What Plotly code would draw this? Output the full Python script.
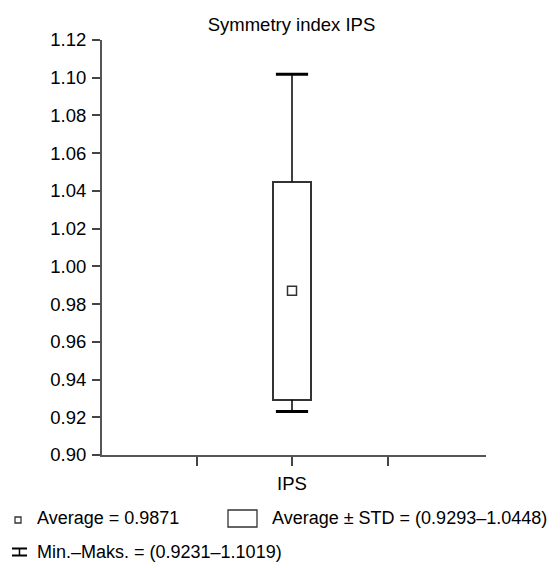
import plotly.graph_objects as go

# ---- data ----
category = ["IPS"]
mean_val = [0.9871]
std_low = [0.9293]
std_high = [1.0448]
min_val = [0.9231]
max_val = [1.1019]
y_ticks = [0.90, 0.92, 0.94, 0.96, 0.98, 1.00, 1.02, 1.04, 1.06, 1.08, 1.10, 1.12]
title_text = "Symmetry index IPS"
legend_mean = "Average = %.4f" % mean_val[0]
legend_std = "Average ± STD = (%.4f–%.4f)" % (std_low[0], std_high[0])
legend_minmax = "Min.–Maks. = (%.4f–%.4f)" % (min_val[0], max_val[0])

FONT = "Liberation Sans, Arial, sans-serif"
FS = 18.5
FS_LEG = 18
OFF = 8                      # page body margin
W, H = 560 - OFF, 568 - OFF  # figure size so that it fits the window
# plot area in page pixels
PL, PR, PT, PB = 102, 486, 40, 455
L, R, T, B = PL - OFF, PR - OFF, PT - OFF, PB - OFF

def px(x):  # page x -> paper
    return (x - PL) / (PR - PL)

def py(y):  # page y -> paper
    return (PB - y) / (PB - PT)

xpos = [0]
unit = 95.5  # px per category unit

fig = go.Figure()

# Box: mean ± STD
fig.add_trace(go.Bar(
    x=xpos, base=std_low, y=[h - l for h, l in zip(std_high, std_low)],
    width=0.4, marker=dict(color="white", line=dict(color="#333333", width=2)),
    showlegend=False, hoverinfo="skip"))

# Whiskers
wx, wy = [], []
for x, lo, hi, mn, mx in zip(xpos, std_low, std_high, min_val, max_val):
    wx += [x, x, None, x, x, None]
    wy += [hi, mx, None, mn, lo, None]
fig.add_trace(go.Scatter(x=wx, y=wy, mode="lines",
                         line=dict(color="black", width=1.5),
                         showlegend=False, hoverinfo="skip"))

# Caps
fig.add_trace(go.Scatter(x=xpos * 2, y=max_val + min_val, mode="markers",
                         marker=dict(symbol="line-ew", size=23,
                                     line=dict(color="black", width=3)),
                         showlegend=False, hoverinfo="skip"))

# Mean marker
fig.add_trace(go.Scatter(x=xpos, y=mean_val, mode="markers",
                         marker=dict(symbol="square", size=9, color="white",
                                     line=dict(color="#333333", width=1.5)),
                         showlegend=False, hoverinfo="skip"))

fig.update_layout(
    width=W, height=H,
    margin=dict(l=L, r=W - R, t=T, b=H - B, pad=0),
    plot_bgcolor="white", paper_bgcolor="white",
    font=dict(family=FONT, size=FS, color="black"),
    title=dict(text=title_text, x=(291.5 - OFF) / W, xanchor="center",
               y=1 - (25 - OFF) / H, yanchor="middle",
               font=dict(family=FONT, size=FS, color="black")),
    showlegend=False,
    bargap=0,
)

fig.update_xaxes(
    range=[-(292 - PL) / unit, (PR - 292) / unit],
    tickvals=[-1, 0, 1], ticktext=["", category[0], ""],
    ticks="outside", ticklen=9, tickwidth=1.5, tickcolor="#444444",
    showline=True, linecolor="#555555", linewidth=2,
    showgrid=False, zeroline=False, ticklabelstandoff=2,
    tickfont=dict(family=FONT, size=FS, color="black"),
)
fig.update_yaxes(
    range=[0.90, 1.12], tickvals=y_ticks, tickformat=".2f",
    ticks="outside", ticklen=8, tickwidth=1.5, tickcolor="#444444",
    showline=True, linecolor="#555555", linewidth=2,
    showgrid=False, zeroline=False, ticklabelstandoff=2,
    tickfont=dict(family=FONT, size=FS, color="black"),
)

# Legend (custom, below the plot)
shapes = []
shapes.append(dict(type="rect", xref="paper", yref="paper",
                   x0=px(15), x1=px(21), y0=py(523), y1=py(517),
                   line=dict(color="#333333", width=1.3), fillcolor="white"))
shapes.append(dict(type="rect", xref="paper", yref="paper",
                   x0=px(228), x1=px(257), y0=py(527), y1=py(510),
                   line=dict(color="#333333", width=1.3), fillcolor="white"))
for y0 in (548.5, 555.5):
    shapes.append(dict(type="line", xref="paper", yref="paper",
                       x0=px(12), x1=px(27), y0=py(y0), y1=py(y0),
                       line=dict(color="black", width=2)))
shapes.append(dict(type="line", xref="paper", yref="paper",
                   x0=px(19.5), x1=px(19.5), y0=py(548.5), y1=py(555.5),
                   line=dict(color="black", width=1.5)))
fig.update_layout(shapes=shapes)

ann = [
    (35, 518, legend_mean),
    (270, 518, legend_std),
    (35, 552, legend_minmax),
]
for x, y, t in ann:
    fig.add_annotation(text=t, xref="paper", yref="paper", x=px(x), y=py(y),
                       xanchor="left", yanchor="middle", showarrow=False,
                       font=dict(family=FONT, size=FS_LEG, color="black"))

fig.write_html("out.html")
